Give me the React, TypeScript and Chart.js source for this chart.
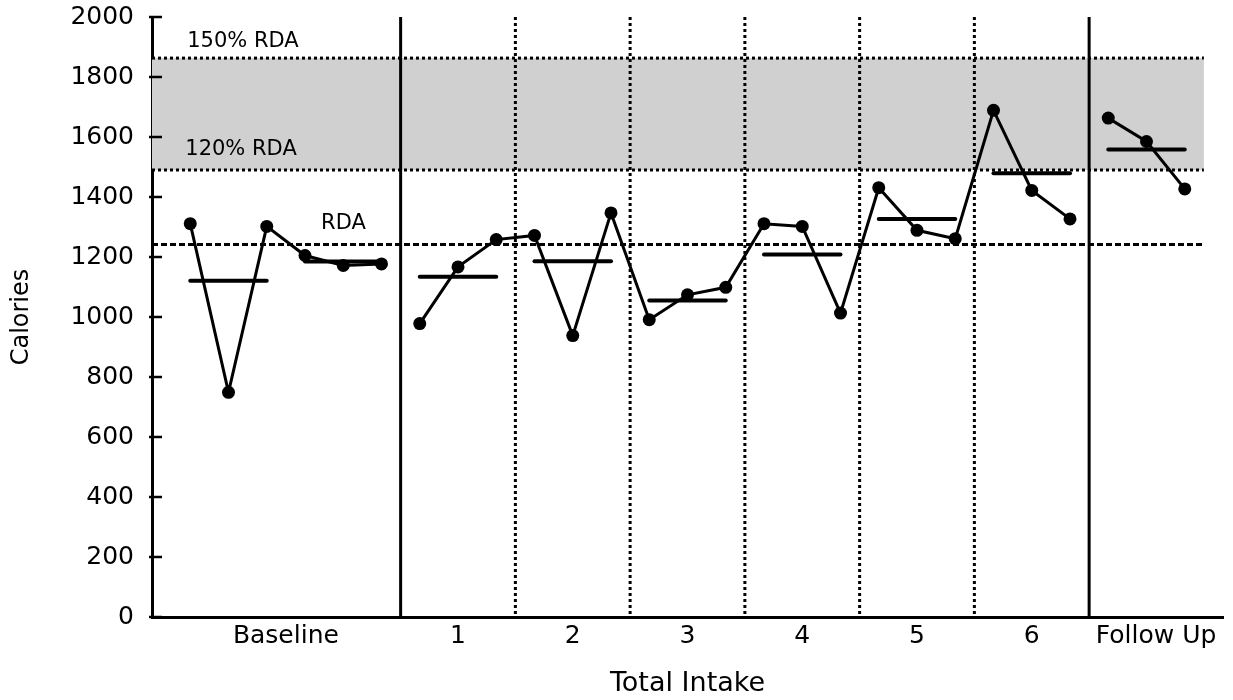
import React, { useEffect, useRef } from "react";
import { Chart, registerables } from "chart.js";

Chart.register(...registerables);

// ---- Data ----
const categoryLabels = ["Baseline", "1", "2", "3", "4", "5", "6", "Follow Up"];
const categoryTickPositions = [3.5, 8, 11, 14, 17, 20, 23, 26.25];
const baselineValues = [1311, 749, 1302, 1205, 1172, 1177];
const treatmentValues = [
  978, 1167, 1258, 1272, 938, 1347, 991, 1074, 1099, 1311, 1302, 1013, 1431, 1289, 1261, 1689, 1422, 1327,
];
const followUpValues = [1663, 1585, 1427];
const meanGroupSize = 3;
const yTickValues = [0, 200, 400, 600, 800, 1000, 1200, 1400, 1600, 1800, 2000];
const rdaLevels = [1242, 1490, 1863];
const rdaLabels = ["RDA", "120% RDA", "150% RDA"];
const solidPhaseLines = [6.5, 24.5];
const dottedPhaseLines = [9.5, 12.5, 15.5, 18.5, 21.5];

const FONT = '"DejaVu Sans", Verdana, sans-serif';

function toPoints(values: number[], start: number) {
  return values.map((v, i) => ({ x: start + i, y: v }));
}

function meanSegments(values: number[], start: number) {
  const segs: { x: number; y: number }[][] = [];
  for (let i = 0; i < values.length; i += meanGroupSize) {
    const g = values.slice(i, i + meanGroupSize);
    const m = g.reduce((a, b) => a + b, 0) / g.length;
    segs.push([
      { x: start + i, y: m },
      { x: start + i + g.length - 1, y: m },
    ]);
  }
  return segs;
}

export default function App() {
  const ref = useRef<HTMLCanvasElement | null>(null);

  useEffect(() => {
    if (!ref.current) return;
    const baseStart = 1;
    const treatStart = baseStart + baselineValues.length;
    const fuStart = treatStart + treatmentValues.length;
    const xEndBand = fuStart + followUpValues.length - 0.5;

    const seriesStyle = {
      borderColor: "#000",
      backgroundColor: "#000",
      borderWidth: 3,
      pointRadius: 6.5,
      pointHoverRadius: 6.5,
      pointBackgroundColor: "#000",
      pointBorderWidth: 0,
      tension: 0,
      fill: false,
    };
    const meanStyle = {
      borderColor: "#000",
      borderWidth: 4,
      pointRadius: 0,
      borderCapStyle: "round" as const,
      fill: false,
    };

    const allMeans = [
      ...meanSegments(baselineValues, baseStart),
      ...meanSegments(treatmentValues, treatStart),
      ...meanSegments(followUpValues, fuStart),
    ];

    const decor = {
      id: "decor",
      beforeDatasetsDraw(chart: any) {
        const { ctx, scales } = chart;
        const x = scales.x;
        const y = scales.y;
        const x0 = x.getPixelForValue(0);
        const x1 = x.getPixelForValue(xEndBand);
        const yHi = y.getPixelForValue(rdaLevels[2]);
        const yLo = y.getPixelForValue(rdaLevels[1]);
        const yBottom = y.getPixelForValue(0);
        const yTop = y.getPixelForValue(2000);
        ctx.save();
        ctx.fillStyle = "#d0d0d0";
        ctx.fillRect(x0, yHi, x1 - x0, yLo - yHi);

        ctx.strokeStyle = "#000";
        ctx.lineWidth = 3;
        ctx.lineCap = "butt";
        ctx.setLineDash([3, 3]);
        [rdaLevels[1], rdaLevels[2]].forEach((lv) => {
          const py = y.getPixelForValue(lv);
          ctx.beginPath();
          ctx.moveTo(x0, py);
          ctx.lineTo(x1, py);
          ctx.stroke();
        });
        ctx.setLineDash([6, 3]);
        {
          const py = y.getPixelForValue(rdaLevels[0]);
          ctx.beginPath();
          ctx.moveTo(x0, py);
          ctx.lineTo(x1, py);
          ctx.stroke();
        }
        ctx.setLineDash([3, 3]);
        dottedPhaseLines.forEach((v) => {
          const px = x.getPixelForValue(v);
          ctx.beginPath();
          ctx.moveTo(px, yTop);
          ctx.lineTo(px, yBottom);
          ctx.stroke();
        });
        ctx.setLineDash([]);
        solidPhaseLines.forEach((v) => {
          const px = x.getPixelForValue(v);
          ctx.beginPath();
          ctx.moveTo(px, yTop);
          ctx.lineTo(px, yBottom);
          ctx.stroke();
        });
        // inward y tick marks
        ctx.lineWidth = 2.5;
        yTickValues.forEach((v) => {
          const py = y.getPixelForValue(v);
          ctx.beginPath();
          ctx.moveTo(x0 - 3, py);
          ctx.lineTo(x0 + 10, py);
          ctx.stroke();
        });
        // labels
        ctx.fillStyle = "#000";
        ctx.font = `21px ${FONT}`;
        ctx.textAlign = "left";
        ctx.textBaseline = "middle";
        ctx.fillText(rdaLabels[2], x.getPixelForValue(0.92), y.getPixelForValue(1919));
        ctx.fillText(rdaLabels[1], x.getPixelForValue(0.87), y.getPixelForValue(1558));
        ctx.fillText(rdaLabels[0], x.getPixelForValue(4.42), y.getPixelForValue(1311));
        ctx.restore();
      },
    };

    const chart = new Chart(ref.current, {
      type: "line",
      data: {
        datasets: [
          { ...seriesStyle, data: toPoints(baselineValues, baseStart) },
          { ...seriesStyle, data: toPoints(treatmentValues, treatStart) },
          { ...seriesStyle, data: toPoints(followUpValues, fuStart) },
          ...allMeans.map((seg) => ({ ...meanStyle, data: seg })),
        ],
      },
      options: {
        animation: false,
        responsive: true,
        maintainAspectRatio: false,
        layout: { padding: { top: 17, right: 10, left: 0, bottom: 0 } },
        plugins: { legend: { display: false }, tooltip: { enabled: false } },
        scales: {
          x: {
            type: "linear",
            min: 0,
            max: 28,
            afterFit(scale: any) {
              scale.height = 83;
              scale.paddingLeft = 0;
              scale.paddingRight = 0;
            },
            afterBuildTicks(scale: any) {
              scale.ticks = categoryTickPositions.map((v) => ({ value: v }));
            },
            ticks: {
              autoSkip: false,
              maxRotation: 0,
              padding: 4,
              color: "#000",
              font: { family: FONT, size: 25 },
              callback: (v: any) => {
                const i = categoryTickPositions.indexOf(Number(v));
                return i >= 0 ? categoryLabels[i] : "";
              },
            },
            grid: { display: false, drawTicks: false },
            border: { display: true, color: "#000", width: 3 },
            title: {
              display: true,
              text: "Total Intake",
              color: "#000",
              font: { family: FONT, size: 27 },
              padding: { top: 0, bottom: 0 },
            },
          },
          y: {
            type: "linear",
            min: 0,
            max: 2000,
            afterFit(scale: any) {
              scale.width = 152;
              scale.paddingTop = 0;
              scale.paddingBottom = 0;
            },
            afterBuildTicks(scale: any) {
              scale.ticks = yTickValues.map((v) => ({ value: v }));
            },
            ticks: {
              padding: 18,
              color: "#000",
              font: { family: FONT, size: 25 },
              callback: (v: any) => String(v),
            },
            grid: { display: false, drawTicks: false },
            border: { display: true, color: "#000", width: 3 },
            title: {
              display: true,
              text: "Calories",
              color: "#000",
              font: { family: FONT, size: 24 },
              padding: { top: 7, bottom: 0 },
            },
          },
        },
      },
      plugins: [decor],
    });
    return () => chart.destroy();
  }, []);

  return (
    <div style={{ position: "absolute", left: 0, top: 0, width: 1233, height: 700 }}>
      <canvas ref={ref} />
    </div>
  );
}
